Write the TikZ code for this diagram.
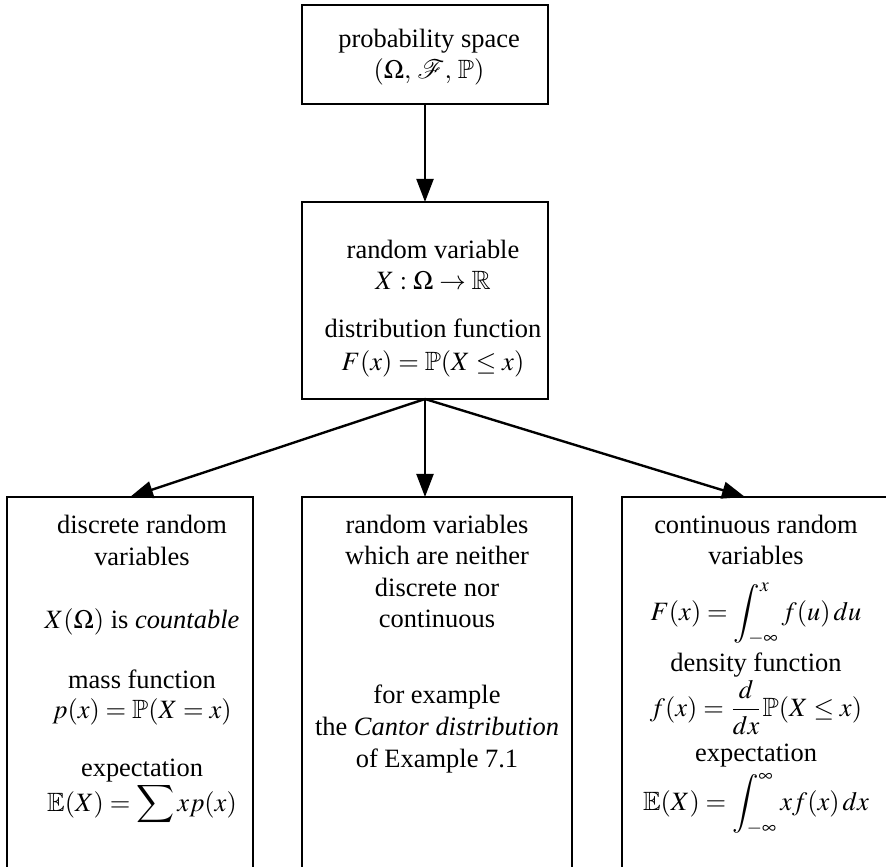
\documentclass[tikz,border=0pt]{standalone}
\usepackage{mathptmx}
\usepackage{amssymb}
\DeclareSymbolFont{cmlargesymbols}{OMX}{cmex}{m}{n}
\DeclareMathSymbol{\intop}{\mathop}{cmlargesymbols}{"52}
\DeclareMathSymbol{\sumop}{\mathop}{cmlargesymbols}{"50}
\renewcommand{\int}{\intop\nolimits}
\renewcommand{\sum}{\sumop\nolimits}
\usepackage[no-math]{fontspec}
\setmainfont{Liberation Serif}
\usetikzlibrary{arrows.meta}
\begin{document}
\begin{tikzpicture}[x=0.378pt,y=-0.378pt,
  box/.style={draw, line width=0.5pt, inner sep=0pt, outer sep=0pt},
  txt/.style={anchor=base, inner sep=0pt, font=\fontsize{10}{12}\selectfont},
  arr/.style={line width=0.9pt, -{Triangle[length=8.7pt,width=6.4pt]}}]
\useasboundingbox (0,0) rectangle (886,866);
\clip (0,0) rectangle (886,866);
% boxes
\node[box, minimum width=246*0.378pt, minimum height=99*0.378pt] (top) at (425,54.5) {};
\node[box, minimum width=246*0.378pt, minimum height=197*0.378pt] (mid) at (425,300.5) {};
\node[box, minimum width=246*0.378pt, minimum height=420*0.378pt] (bl) at (130,707) {};
\node[box, minimum width=270*0.378pt, minimum height=420*0.378pt] (bm) at (437,707) {};
\node[box, minimum width=270*0.378pt, minimum height=420*0.378pt] (br) at (757,707) {};
% texts
\node[txt] (t1) at (429,47) {probability space};
\node[txt] (t2) at (429,78) {$(\Omega,\,\mathcal{F},\,\mathbb{P})$};
\node[txt] (m1) at (433,258) {random variable};
\node[txt] (m2) at (433,289) {$X:\Omega\to\mathbb{R}$};
\node[txt] (m3) at (433,337) {distribution function};
\node[txt] (m4) at (433,370) {$F(x)=\mathbb{P}(X\le x)$};
\node[txt] (l1) at (142,533) {discrete random};
\node[txt] (l2) at (142,565) {variables};
\node[txt] (l3) at (142,628) {$X(\Omega)$ is \textit{countable}};
\node[txt] (l4) at (142,688) {mass function};
\node[txt] (l5) at (142,718) {$p(x)=\mathbb{P}(X=x)$};
\node[txt] (l6) at (142,776) {expectation};
\node[txt] (l7) at (142,811) {$\displaystyle\mathbb{E}(X)=\sum xp(x)$};
\node[txt] (c1) at (437,533) {random variables};
\node[txt] (c2) at (437,564) {which are neither};
\node[txt] (c3) at (437,596) {discrete nor};
\node[txt] (c4) at (437,627) {continuous};
\node[txt] (c5) at (437,703) {for example};
\node[txt] (c6) at (437,735) {the \textit{Cantor distribution}};
\node[txt] (c7) at (437,767) {of Example 7.1};
\node[txt] (r1) at (756,533) {continuous random};
\node[txt] (r2) at (756,564) {variables};
\node[txt] (r3) at (756,620) {$\displaystyle F(x)=\int_{-\infty}^{x} f(u)\,du$};
\node[txt] (r4) at (756,671) {density function};
\node[txt] (r5) at (756,716) {$\displaystyle f(x)=\frac{d}{dx}\mathbb{P}(X\le x)$};
\node[txt] (r6) at (756,761) {expectation};
\node[txt] (r7) at (756,810) {$\displaystyle\mathbb{E}(X)=\int_{-\infty}^{\infty} xf(x)\,dx$};
% connectors
\coordinate (rtip) at (745,497);
\draw[arr] (top.south) -- (mid.north);
\draw[arr] (mid.south) -- (bl.north);
\draw[arr] (mid.south) -- (mid.south |- bm.north);
\draw[arr] (mid.south) -- (rtip);
\end{tikzpicture}
\end{document}
